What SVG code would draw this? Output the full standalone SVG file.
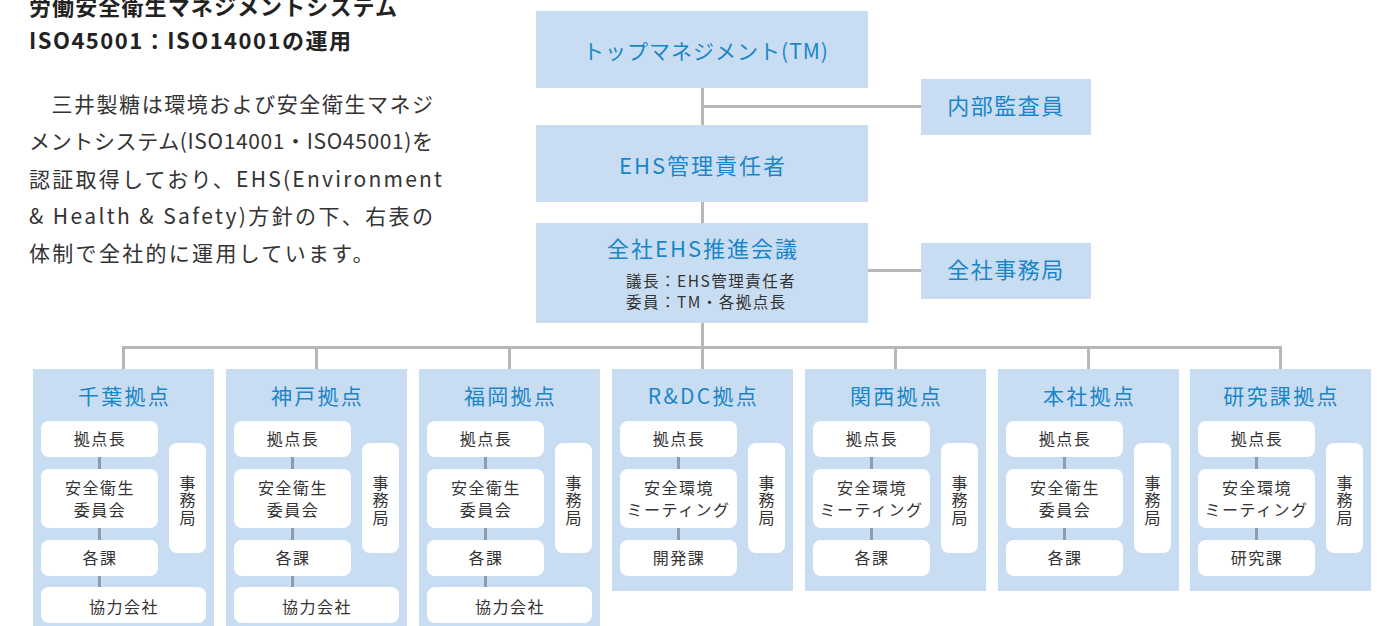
<svg xmlns="http://www.w3.org/2000/svg" width="1389" height="626" viewBox="0 0 1389 626">
<style>
text{font-family:"Noto Sans CJK JP","Noto Sans",sans-serif;}
.bg{fill:#ffffff}
.box{fill:#c9ddf2}
.wb{fill:#ffffff}
.ln{stroke:#b7b7b7;stroke-width:3;fill:none}
.il{stroke:#8c9caf;stroke-width:3;fill:none}
.blue{fill:#1a86c8;text-anchor:middle}
.dark{fill:#333333}
.it{fill:#333333;font-size:16px;text-anchor:middle;letter-spacing:1.5px}
.vt{fill:#333333;font-size:16px;text-anchor:middle;writing-mode:vertical-rl;letter-spacing:1.5px}
.ct{fill:#1a86c8;font-size:21px;text-anchor:middle;letter-spacing:2.3px}
.head{fill:#222222;font-size:22px;font-weight:bold}
.body{fill:#333333;font-size:21px}
</style>
<rect class="bg" x="0" y="0" width="1389" height="626"/>

<g id="intro">
<text class="head" x="29" y="15" textLength="368" lengthAdjust="spacing">労働安全衛生マネジメントシステム</text>
<text class="head" x="29" y="49" textLength="322" lengthAdjust="spacing">ISO45001：ISO14001の運用</text>
<text class="body" x="29" y="112" textLength="404" lengthAdjust="spacing">　三井製糖は環境および安全衛生マネジ</text>
<text class="body" x="29" y="149" textLength="404" lengthAdjust="spacing">メントシステム(ISO14001・ISO45001)を</text>
<text class="body" x="29" y="187" textLength="413" lengthAdjust="spacing">認証取得しており、EHS(Environment</text>
<text class="body" x="29" y="224" textLength="404" lengthAdjust="spacing">&amp; Health &amp; Safety)方針の下、右表の</text>
<text class="body" x="29" y="261" letter-spacing="2.3">体制で全社的に運用しています。</text>
</g>

<g id="node-tm">
<rect class="box" x="536" y="11" width="332" height="77"/>
<text class="blue" x="706" y="59" font-size="21" letter-spacing="1">トップマネジメント(TM)</text>
</g>
<g id="node-audit">
<rect class="box" x="921" y="79" width="170" height="56"/>
<text class="blue" x="1006" y="114" font-size="22" letter-spacing="1.5">内部監査員</text>
</g>
<g id="node-ehs">
<rect class="box" x="536" y="125" width="332" height="77"/>
<text class="blue" x="703" y="174" font-size="22" letter-spacing="2">EHS管理責任者</text>
</g>
<g id="node-meeting">
<rect class="box" x="536" y="223" width="332" height="100"/>
<text class="blue" x="703" y="257" font-size="22" letter-spacing="2">全社EHS推進会議</text>
<text class="dark" x="626" y="287" font-size="15.5" letter-spacing="1.5">議長：EHS管理責任者</text>
<text class="dark" x="626" y="308" font-size="15.5" letter-spacing="1.5">委員：TM・各拠点長</text>
</g>
<g id="node-secretariat">
<rect class="box" x="921" y="243" width="170" height="56"/>
<text class="blue" x="1006" y="278" font-size="22" letter-spacing="1.5">全社事務局</text>
</g>

<g id="site-chiba" transform="translate(33,0)">
<rect class="box" x="0" y="369" width="181" height="260"/>
<text class="ct" x="91.5" y="404">千葉拠点</text>
<rect class="wb" x="8" y="421" width="117" height="36" rx="8"/>
<text class="it" x="67" y="445">拠点長</text>
<rect class="wb" x="8" y="469" width="117" height="59" rx="8"/>
<text class="it" x="67" y="494">安全衛生</text>
<text class="it" x="67" y="516">委員会</text>
<rect class="wb" x="8" y="540" width="117" height="36" rx="8"/>
<text class="it" x="67" y="564">各課</text>
<rect class="wb" x="8" y="587" width="165" height="36" rx="8"/>
<text class="it" x="91" y="613">協力会社</text>
<rect class="wb" x="136" y="443" width="37" height="110" rx="8"/>
<text class="vt" x="154.5" y="501">事務局</text>
</g>

<g id="site-kobe" transform="translate(226,0)">
<rect class="box" x="0" y="369" width="181" height="260"/>
<text class="ct" x="91.5" y="404">神戸拠点</text>
<rect class="wb" x="8" y="421" width="117" height="36" rx="8"/>
<text class="it" x="67" y="445">拠点長</text>
<rect class="wb" x="8" y="469" width="117" height="59" rx="8"/>
<text class="it" x="67" y="494">安全衛生</text>
<text class="it" x="67" y="516">委員会</text>
<rect class="wb" x="8" y="540" width="117" height="36" rx="8"/>
<text class="it" x="67" y="564">各課</text>
<rect class="wb" x="8" y="587" width="165" height="36" rx="8"/>
<text class="it" x="91" y="613">協力会社</text>
<rect class="wb" x="136" y="443" width="37" height="110" rx="8"/>
<text class="vt" x="154.5" y="501">事務局</text>
</g>

<g id="site-fukuoka" transform="translate(419,0)">
<rect class="box" x="0" y="369" width="181" height="260"/>
<text class="ct" x="91.5" y="404">福岡拠点</text>
<rect class="wb" x="8" y="421" width="117" height="36" rx="8"/>
<text class="it" x="67" y="445">拠点長</text>
<rect class="wb" x="8" y="469" width="117" height="59" rx="8"/>
<text class="it" x="67" y="494">安全衛生</text>
<text class="it" x="67" y="516">委員会</text>
<rect class="wb" x="8" y="540" width="117" height="36" rx="8"/>
<text class="it" x="67" y="564">各課</text>
<rect class="wb" x="8" y="587" width="165" height="36" rx="8"/>
<text class="it" x="91" y="613">協力会社</text>
<rect class="wb" x="136" y="443" width="37" height="110" rx="8"/>
<text class="vt" x="154.5" y="501">事務局</text>
</g>

<g id="site-rdc" transform="translate(612,0)">
<rect class="box" x="0" y="369" width="181" height="222"/>
<text class="ct" x="91.5" y="404">R&amp;DC拠点</text>
<rect class="wb" x="8" y="421" width="117" height="36" rx="8"/>
<text class="it" x="67" y="445">拠点長</text>
<rect class="wb" x="8" y="469" width="117" height="59" rx="8"/>
<text class="it" x="67" y="494">安全環境</text>
<text class="it" x="66.5" y="516" letter-spacing="0">ミーティング</text>
<rect class="wb" x="8" y="540" width="117" height="36" rx="8"/>
<text class="it" x="67" y="564">開発課</text>
<rect class="wb" x="136" y="443" width="37" height="110" rx="8"/>
<text class="vt" x="154.5" y="501">事務局</text>
</g>

<g id="site-kansai" transform="translate(805,0)">
<rect class="box" x="0" y="369" width="181" height="222"/>
<text class="ct" x="91.5" y="404">関西拠点</text>
<rect class="wb" x="8" y="421" width="117" height="36" rx="8"/>
<text class="it" x="67" y="445">拠点長</text>
<rect class="wb" x="8" y="469" width="117" height="59" rx="8"/>
<text class="it" x="67" y="494">安全環境</text>
<text class="it" x="66.5" y="516" letter-spacing="0">ミーティング</text>
<rect class="wb" x="8" y="540" width="117" height="36" rx="8"/>
<text class="it" x="67" y="564">各課</text>
<rect class="wb" x="136" y="443" width="37" height="110" rx="8"/>
<text class="vt" x="154.5" y="501">事務局</text>
</g>

<g id="site-honsha" transform="translate(998,0)">
<rect class="box" x="0" y="369" width="181" height="222"/>
<text class="ct" x="91.5" y="404">本社拠点</text>
<rect class="wb" x="8" y="421" width="117" height="36" rx="8"/>
<text class="it" x="67" y="445">拠点長</text>
<rect class="wb" x="8" y="469" width="117" height="59" rx="8"/>
<text class="it" x="67" y="494">安全衛生</text>
<text class="it" x="67" y="516">委員会</text>
<rect class="wb" x="8" y="540" width="117" height="36" rx="8"/>
<text class="it" x="67" y="564">各課</text>
<rect class="wb" x="136" y="443" width="37" height="110" rx="8"/>
<text class="vt" x="154.5" y="501">事務局</text>
</g>

<g id="site-kenkyu" transform="translate(1190,0)">
<rect class="box" x="0" y="369" width="181" height="222"/>
<text class="ct" x="91.5" y="404">研究課拠点</text>
<rect class="wb" x="8" y="421" width="117" height="36" rx="8"/>
<text class="it" x="67" y="445">拠点長</text>
<rect class="wb" x="8" y="469" width="117" height="59" rx="8"/>
<text class="it" x="67" y="494">安全環境</text>
<text class="it" x="66.5" y="516" letter-spacing="0">ミーティング</text>
<rect class="wb" x="8" y="540" width="117" height="36" rx="8"/>
<text class="it" x="67" y="564">研究課</text>
<rect class="wb" x="136" y="443" width="37" height="110" rx="8"/>
<text class="vt" x="154.5" y="501">事務局</text>
</g>

<g id="connectors">
<path class="ln" d="M702.5 88V125M702.5 106.5H921M702.5 202V223M868 270.5H921M702.5 323V347.5"/>
<path class="ln" d="M123.5 369V347.5H1280.5V369M316.5 347.5V369M509.5 347.5V369M895.5 347.5V369M1088.5 347.5V369M702.5 347.5V369"/>
<path class="il" d="M99.5 457V469M99.5 528V540M99.5 576V587M292.5 457V469M292.5 528V540M292.5 576V587M485.5 457V469M485.5 528V540M485.5 576V587M678.5 457V469M678.5 528V540M871.5 457V469M871.5 528V540M1064.5 457V469M1064.5 528V540M1256.5 457V469M1256.5 528V540"/>
</g>
</svg>
